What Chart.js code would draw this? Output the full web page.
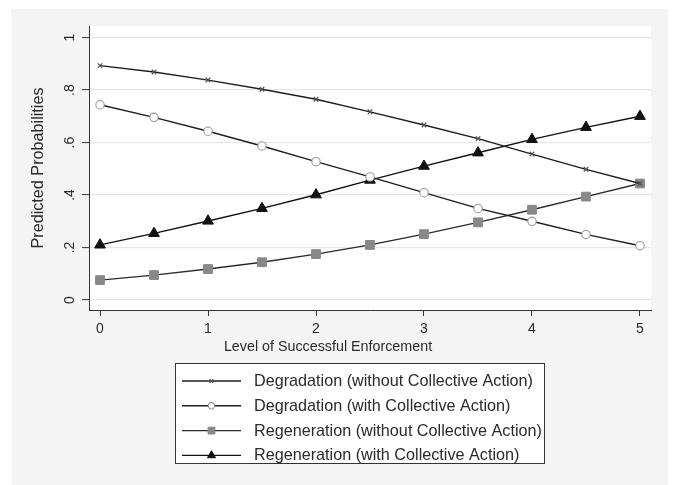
<!DOCTYPE html>
<html>
<head>
<meta charset="utf-8">
<style>
  html, body { margin: 0; padding: 0; background: #ffffff; }
  #wrap { width: 675px; height: 485px; }
</style>
<script src="https://cdn.jsdelivr.net/npm/chart.js@4/dist/chart.umd.min.js"></script>
</head>
<body>
<div id="wrap"><canvas id="chart" width="675" height="485"></canvas></div>
<script>
// Enforcement levels (x) and predicted probabilities for each outcome
const enforcement = [0, 0.5, 1, 1.5, 2, 2.5, 3, 3.5, 4, 4.5, 5];
const degradationNoCA = [0.893, 0.869, 0.838, 0.803, 0.765, 0.717, 0.667, 0.615, 0.556, 0.498, 0.444];
const degradationCA   = [0.744, 0.696, 0.643, 0.587, 0.527, 0.469, 0.409, 0.349, 0.300, 0.250, 0.207];
const regenerationNoCA = [0.076, 0.095, 0.118, 0.144, 0.175, 0.210, 0.251, 0.296, 0.344, 0.394, 0.444];
const regenerationCA   = [0.210, 0.254, 0.301, 0.349, 0.401, 0.457, 0.510, 0.561, 0.612, 0.658, 0.700];

const seriesLabels = [
  'Degradation (without Collective Action)',
  'Degradation (with Collective Action)',
  'Regeneration (without Collective Action)',
  'Regeneration (with Collective Action)'
];
const xTicks = [0, 1, 2, 3, 4, 5];
const xTickLabels = ['0', '1', '2', '3', '4', '5'];
const yTicks = [0, 0.2, 0.4, 0.6, 0.8, 1];
const yTickLabels = ['0', '.2', '.4', '.6', '.8', '1'];
const xTitle = 'Level of Successful Enforcement';
const yTitle = 'Predicted Probabilities';

const FONT = "'Liberation Sans', Arial, Helvetica, sans-serif";
Chart.defaults.font.family = FONT;
Chart.defaults.font.size = 14;
Chart.defaults.color = '#2a2a2a';

const toPoints = ys => enforcement.map((x, i) => ({ x: x, y: ys[i] }));

const styles = [
  { pointStyle: 'crossRot', pointRadius: 3.2, pointBorderWidth: 1.3, pointBorderColor: '#555', pointBackgroundColor: '#555', borderColor: '#1e1e1e', legendScale: 0.8 },
  { pointStyle: 'circle', pointRadius: 4.2, pointBorderWidth: 1.1, pointBorderColor: '#9a9a9a', pointBackgroundColor: '#ffffff', borderColor: '#1e1e1e', legendScale: 0.75 },
  { pointStyle: 'rect', pointRadius: 6.2, pointBorderWidth: 1, pointBorderColor: '#888888', pointBackgroundColor: '#888888', borderColor: '#2a2a2a', legendScale: 0.78 },
  { pointStyle: 'triangle', pointRadius: 6.2, pointBorderWidth: 1, pointBorderColor: '#111111', pointBackgroundColor: '#111111', borderColor: '#111111', legendScale: 0.75 }
];
const seriesData = [degradationNoCA, degradationCA, regenerationNoCA, regenerationCA];

const datasets = seriesData.map((ys, i) => Object.assign({
  label: seriesLabels[i],
  data: toPoints(ys),
  borderWidth: 1.4,
  tension: 0,
  fill: false,
  pointHoverRadius: 0
}, styles[i]));

// Grey graph background and white plot region
const backdrop = {
  id: 'backdrop',
  beforeDraw(chart) {
    const { ctx, chartArea: a } = chart;
    ctx.save();
    ctx.fillStyle = '#f4f4f4';
    ctx.fillRect(11, 9, 657, 476);
    ctx.fillStyle = '#ffffff';
    ctx.fillRect(a.left, a.top, a.right - a.left, a.bottom - a.top);
    ctx.restore();
  }
};

// x-axis title and the boxed legend under the plot
const annotations = {
  id: 'annotations',
  afterDraw(chart) {
    const ctx = chart.ctx;
    ctx.save();
    ctx.font = '14.3px ' + FONT;
    ctx.fillStyle = '#2a2a2a';
    ctx.textAlign = 'center';
    ctx.textBaseline = 'middle';
    ctx.fillText(xTitle, 328, 347);

    // legend box
    ctx.fillStyle = '#ffffff';
    ctx.fillRect(175.5, 363.5, 369, 100);
    ctx.strokeStyle = '#333333';
    ctx.lineWidth = 1;
    ctx.strokeRect(175.5, 363.5, 369, 100);

    ctx.font = '16.2px ' + FONT;
    chart.data.datasets.forEach((ds, i) => {
      const y = 381 + i * 24.8;
      ctx.strokeStyle = ds.borderColor;
      ctx.lineWidth = 1.4;
      ctx.beginPath();
      ctx.moveTo(182, y);
      ctx.lineTo(241, y);
      ctx.stroke();
      ctx.strokeStyle = ds.pointBorderColor;
      ctx.fillStyle = ds.pointBackgroundColor;
      ctx.lineWidth = ds.pointBorderWidth;
      Chart.helpers.drawPoint(ctx, {
        pointStyle: ds.pointStyle,
        radius: ds.pointRadius * ds.legendScale,
        rotation: 0,
        borderWidth: ds.pointBorderWidth
      }, 211.5, y);
      ctx.fillStyle = '#2a2a2a';
      ctx.textAlign = 'left';
      ctx.textBaseline = 'middle';
      ctx.fillText(ds.label, 254, y + 0.5);
    });
    ctx.restore();
  }
};

new Chart(document.getElementById('chart'), {
  type: 'line',
  data: { datasets: datasets },
  plugins: [backdrop, annotations],
  options: {
    responsive: false,
    animation: false,
    layout: { padding: { top: 26, right: 24, bottom: 125, left: 0 } },
    plugins: {
      legend: { display: false },
      tooltip: { enabled: false }
    },
    scales: {
      x: {
        type: 'linear',
        min: -0.102,
        max: 5.102,
        afterBuildTicks: s => { s.ticks = xTicks.map(v => ({ value: v })); },
        afterFit: s => { s.height = 50; },
        ticks: {
          padding: 5,
          maxRotation: 0,
          callback: v => xTickLabels[xTicks.indexOf(v)]
        },
        grid: { drawOnChartArea: false, tickLength: 6, tickColor: '#333333', tickWidth: 1 },
        border: { color: '#333333', width: 1 }
      },
      y: {
        type: 'linear',
        min: -0.038,
        max: 1.044,
        afterBuildTicks: s => { s.ticks = yTicks.map(v => ({ value: v })); },
        afterFit: s => { s.width = 89; },
        ticks: {
          padding: 6,
          minRotation: 90,
          maxRotation: 90,
          crossAlign: 'center',
          callback: v => yTickLabels[yTicks.findIndex(t => Math.abs(t - v) < 1e-9)]
        },
        grid: { color: '#e6e6e6', lineWidth: 1.2, tickLength: 7, tickColor: '#333333', tickWidth: 1 },
        border: { color: '#333333', width: 1 },
        title: { display: true, text: yTitle, padding: { top: 29, bottom: 0 }, color: '#2a2a2a', font: { size: 16.2 } }
      }
    }
  }
});
</script>
</body>
</html>
